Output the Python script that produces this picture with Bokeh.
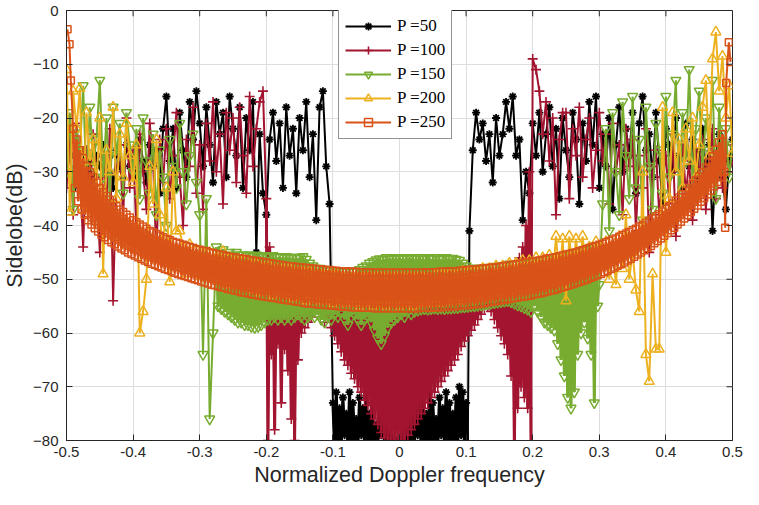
import numpy as np
from bokeh.plotting import figure
from bokeh.models import Range1d, FixedTicker, Legend, LegendItem
from bokeh.embed import file_html
from bokeh.resources import INLINE

STEP = 0.005

# ---------------- data (sidelobe level in dB) ----------------
# P = 50
p50_a_x0 = -0.500
p50_a = [-28,-27,-33,-29,-31,-26,-30,-28,-33,-27,
         -29,-25,-30,-27,-33,-26,-29,-31,-25,-29,
         -27,-31,-24,-28,-32,-25,-29,-26,-34,-22,
         -16,-28,-22,-33,-19,-26,-31,-17,-24,-15,
         -21,-29,-18,-25,-32,-17,-23,-19,-31,-16,
         -22,-27,-18,-33,-20,-26,-17,-45,-23,-34,
         -38,-24,-19,-28,-21,-33,-18,-27,-22,-34,
         -20,-26,-17,-31,-23,-39,-18,-15,-29,-36]
p50_b_x0 = -0.100
p50_b_hi = [-73,-71,-74,-72,-75,-71,-73,-76,-72,-74,
            -71,-75,-73,-77,-74,-76,-78,-79,-80,-80,
            -80,-79,-78,-76,-75,-73,-74,-72,-75,-71,
            -73,-76,-72,-74,-71,-73,-75,-72,-70,-71,-73]
p50_b_lo = [-81,-80,-81,-79,-81,-81,-80,-81,-79,-81,
            -81,-80,-81,-81,-79,-81,-81,-80,-81,-81,
            -81,-81,-80,-81,-81,-79,-81,-80,-81,-81,
            -80,-81,-79,-81,-81,-80,-81,-81,-79,-81,-81]
p50_c_x0 = 0.105
p50_c = [-41,-26,-19,-24,-21,-28,-23,-32,-20,-27,
         -23,-17,-22,-16,-27,-24,-39,-30,-34,-21,
         -27,-19,-30,-23,-18,-29,-22,-35,-20,-26,
         -31,-19,-24,-36,-21,-28,-17,-25,-16,-33,
         -23,-29,-20,-37,-25,-18,-30,-22,-27,-19,
         -34,-21,-16,-26,-23,-31,-19,-28,-36,-22,
         -25,-30,-20,-27,-33,-21,-29,-24,-35,-26,
         -22,-30,-25,-41,-27,-23,-31,-37,-28,-24]

# P = 100
p100_a_x0 = -0.500
p100_a = [-33,-24,-38,-21,-29,-44,-26,-35,-23,-31,
          -45,-27,-36,-22,-54,-30,-25,-39,-20,-33,
          -26,-41,-23,-30,-37,-21,-28,-46,-24,-32,
          -22,-35,-27,-19,-31,-40,-24,-29,-18,-34,
          -25,-37,-21,-28,-17,-30,-23,-36,-19,-26,
          -20,-32,-18,-27,-34,-16,-29,-22,-17,-15]
p100_b_x0 = -0.200
p100_b_hi = [-35,-44,-48,-50,-49,-51,-50,-49,-51,-50,
             -50,-49,-51,-50,-49,-50,-51,-50,-49,-50,
             -51,-50,-49,-50,-51,-50,-49,-50,-51,-50,
             -50,-49,-51,-50,-49,-50,-51,-50,-49,-50,
             -50,-51,-49,-50,-51,-50,-49,-50,-51,-50,
             -49,-50,-51,-50,-49,-50,-51,-50,-49,-50,
             -51,-50,-49,-50,-51,-50,-49,-50,-51,-50,
             -49,-50,-51,-50,-49,-48,-46,-44,-40,-30]
p100_b_lo = [-80,-64,-78,-62,-73,-63,-67,-76,-80,-65,
             -60,-59,-58,-57,-56,-55,-56,-58,-57,-59,
             -60.5,-62,-63.5,-65,-66,-67.5,-68.5,-70,-71,-72.5,
             -73.5,-75,-76,-77,-78.5,-79.5,-80.5,-81,-81,-81,
             -81,-80.5,-79,-78,-77,-76,-75,-74,-73,-72,
             -71,-70,-69,-68,-67,-66,-65,-64,-62.5,-61.5,
             -60.5,-59.5,-58.5,-57.5,-56.5,-55.5,-55,-56,-57.5,-59,
             -60.5,-62,-64,-68,-81,-74,-70,-72,-74,-81]
p100_c_x0 = 0.200
p100_c = [-9,-11,-15,-23,-17,-28,-20,-38,-24,-19,
          -19,-35,-22,-27,-18,-31,-24,-20,-33,-26,
          -19,-28,-23,-36,-21,-30,-25,-38,-22,-29,
          -24,-41,-27,-33,-22,-45,-29,-26,-38,-31,
          -27,-36,-23,-42,-30,-25,-34,-28,-39,-26,
          -31,-24,-37,-29,-22,-35,-27,-33,-25,-30,-28]

# P = 150
p150_a_x0 = -0.500
p150_a = [-30,-19,-37,-22,-27,-14,-33,-18,-29,-24,
          -13,-31,-20,-36,-18,-27,-21,-34,-19,-25,
          -30,-22,-35,-20,-28,-34,-23,-38,-26,-31,
          -40,-24,-29,-33,-21,-30,-36,-27,-23,-32,
          -38,-64,-35,-76,-60]
p150_b_x0 = -0.275
p150_b_hi = [-44,-45,-44.5,-45.5,-45,-45.5,-45,-45.5,-45.5,-45.5,
             -45.5,-45.8,-45.5,-45.8,-45.6,-45.8,-45.8,-45.6,-45.9,-45.8,
             -45.9,-45.8,-46,-45.9,-46,-46,-45.8,-46.3,-47,-47.5,
             -48,-48,-48.2,-48.3,-48.4,-48.4,-48.5,-48.5,-48.5,-48.5,
             -48.5,-48.6,-48.5,-48.2,-47.8,-47.5,-47,-46.7,-46.4,-46.2,
             -46.3,-46,-46.2,-46,-46.1,-46,-46.2,-46,-46.1,-46,
             -46.2,-46,-46.3,-46,-46.1,-46.2,-46,-46.3,-46.1,-46,
             -46.2,-46.1,-46.3,-46.5,-47,-47.5,-48,-48,-48,-48,
             -48,-48,-47.8,-47.8,-47.6,-47.5,-47.5,-47.3,-47.2,-47.2,
             -47.2,-47.2,-47,-47,-46.9,-46.8,-46.7,-46.6,-46.5,-46.4,
             -46.3,-46.2,-46,-45.9,-45.8,-45.6,-45.4,-45.2,-45,-44.8,
             -44.6,-44.4,-44.2,-44,-43.8]
p150_b_lo = [-55,-55.5,-56,-56.5,-57,-57.5,-58,-58,-58.5,-58.5,
             -58.8,-59,-58.8,-58.5,-58,-57.5,-57.5,-57,-57.5,-57,
             -57.5,-57,-57.5,-57,-56.5,-57,-57.5,-57,-56.5,-57,
             -56.5,-57.5,-58,-56.8,-57.5,-56.5,-57,-56,-57.5,-58.5,
             -57,-56.5,-57.5,-58.5,-57.5,-57,-58,-59.5,-61,-62,
             -60.5,-59,-58,-57.5,-57,-56.5,-57,-56,-56.5,-56,
             -55.8,-55.6,-55.5,-55.6,-55.5,-55.4,-55.5,-55.4,-55.5,-55.4,
             -55.4,-55.3,-55.3,-55.2,-55.2,-55.1,-55,-55,-54.9,-54.8,
             -54.7,-54.6,-54.5,-54.4,-54.3,-54.2,-54.1,-54,-54.2,-54.5,
             -54.8,-55,-55.3,-55.6,-56,-55,-56,-57,-58,-58.5,
             -59,-59.5,-62,-65,-68,-72,-74,-71,-64,-60,
             -58,-61,-64,-73,-55]
p150_c_x0 = 0.300
p150_c = [-51,-36,-22,-41,-19,-30,-38,-17,-27,-35,
          -16,-33,-24,-39,-18,-29,-37,-21,-26,-34,
          -16,-31,-23,-13,-36,-19,-28,-11,-33,-22,
          -15,-30,-20,-26,-13,-35,-18,-29,-22,-31,-25]

# P = 200
p200_a_x0 = -0.500
p200_a = [-11,-37.5,-15,-22,-14.5,-37,-19,-28,-24,-33,
          -20,-49,-26,-30,-18,-35,-23,-31,-21,-27,
          -32,-25,-60,-56,-50,-29,-36,-24,-38,-45,
          -33,-50.5,-30,-41,-41]
p200_b_x0 = -0.325
p200_b = [-44,-49,-43.5,-48,-44.5,-49.5,-45,-48.5,-45,-50,
          -46,-50,-44.8,-51,-46,-50.5,-46.5,-51,-46.5,-51.5,
          -47,-52,-47,-52.5,-47.5,-52,-47.5,-53,-48,-52.5,
          -48,-53,-48,-53.5,-48.5,-53,-48.5,-54,-48.5,-53.5,
          -49,-54,-49,-54,-49,-54.5,-49,-54,-49.5,-54.5,
          -49.5,-54.5,-49.5,-55,-49.5,-54.5,-49.5,-55,-49.5,-54.5,
          -49.5,-55,-49.5,-54.5,-49.5,-55,-49.5,-54.5,-49.5,-55,
          -49.5,-54.5,-49.5,-54.5,-49.5,-54.5,-49,-54.5,-49,-54,
          -49,-54,-49,-54,-48.5,-53.5,-48.5,-53.5,-48.5,-53,
          -48,-53,-48,-52.5,-47.5,-52.5,-47.5,-52,-47,-52,
          -47,-51.5,-46.5,-51.5,-46.5,-51,-46,-50.5,-46,-50,
          -45.5,-50,-42,-49.5,-42.5,-54,-42,-49,-42.5,-48.5,
          -42,-48,-44,-47.5,-43,-47]
p200_c_x0 = 0.305
p200_c = [-47,-43,-50,-44,-51,-42,-48,-38,-50,-45,
          -52,-56,-30,-64,-69,-49,-63,-63,-18,-45,
          -35,-19,-30,-24,-33,-22,-28,-20,-31,-25,
          -18,-13,-27,-9,-4,-15,-8.5,-20,-14,-26.6]

# P = 250
p250_edge_l_x = [-0.4985, -0.4955, -0.4935]
p250_edge_l_y = [-3.5, -6.3, -13]
p250_b_x0 = -0.490
p250_hi = [-22,-24,-26,-27.5,-29,-30,-31,-32,-33,-33.8,
           -34.5,-35.2,-35.8,-36.4,-37,-37.5,-38,-38.5,-39,-39.4,
           -39.8,-40.2,-40.6,-41,-41.3,-41.6,-41.9,-42.2,-42.5,-42.7,
           -43,-43.2,-43.4,-43.6,-43.8,-44,-44.2,-44.4,-44.5,-44.7,
           -44.8,-45,-45.1,-45.3,-45.4,-45.5,-45.7,-45.8,-45.9,-46,
           -46.1,-46.2,-46.3,-46.4,-46.5,-46.6,-46.7,-46.8,-46.9,-47,
           -47.1,-47.2,-47.3,-47.4,-47.5,-47.6,-47.6,-47.7,-47.8,-47.8,
           -47.9,-48,-48,-48.1,-48.2,-48.2,-48.3,-48.3,-48.4,-48.4,
           -48.5,-48.5,-48.5,-48.6,-48.6,-48.6,-48.7,-48.7,-48.7,-48.7,
           -48.8,-48.8,-48.8,-48.8,-48.8,-48.8,-48.8,-48.8,
           -48.8,
           -48.8,-48.8,-48.8,-48.8,-48.8,-48.8,-48.8,-48.7,-48.7,-48.7,
           -48.7,-48.6,-48.6,-48.6,-48.5,-48.5,-48.5,-48.4,-48.4,-48.3,
           -48.3,-48.2,-48.2,-48.1,-48,-48,-47.9,-47.8,-47.8,-47.7,
           -47.6,-47.5,-47.4,-47.3,-47.2,-47.1,-47,-46.9,-46.8,-46.7,
           -46.6,-46.5,-46.4,-46.2,-46.1,-46,-45.9,-45.7,-45.6,-45.4,
           -45.3,-45.1,-45,-44.8,-44.6,-44.4,-44.2,-44,-43.8,-43.6,
           -43.4,-43.1,-42.9,-42.6,-42.4,-42.1,-41.8,-41.5,-41.2,-40.9,
           -40.6,-40.2,-39.9,-39.5,-39.1,-38.7,-38.3,-37.9,-37.4,-36.9,
           -36.4,-35.9,-35.4,-34.8,-34.2,-33.6,-33,-32.3,-31.6,-30.9,
           -30.1,-29.2,-28.2,-27.1,-25.9,-24.5,-23]
p250_lo = [-33,-35.5,-37,-38,-39,-39.8,-40.5,-41.1,-41.7,-42.2,
           -42.7,-43.1,-43.5,-43.9,-44.3,-44.6,-45,-45.3,-45.6,-45.9,
           -46.2,-46.5,-46.8,-47.1,-47.3,-47.6,-47.8,-48.1,-48.3,-48.5,
           -48.8,-49,-49.2,-49.4,-49.6,-49.8,-50,-50.2,-50.4,-50.6,
           -50.8,-51,-51.1,-51.3,-51.5,-51.6,-51.8,-51.9,-52.1,-52.2,
           -52.4,-52.5,-52.6,-52.8,-52.9,-53,-53.1,-53.2,-53.3,-53.4,
           -53.5,-53.6,-53.7,-53.8,-53.9,-54,-54.1,-54.2,-54.3,-54.4,
           -54.5,-54.5,-54.6,-54.7,-54.7,-54.8,-54.8,-54.9,-54.9,-55,
           -55,-55.1,-55.1,-55.2,-55.2,-55.2,-55.3,-55.3,-55.3,-55.3,
           -55.4,-55.4,-55.4,-55.4,-55.4,-55.4,-55.4,-55.4,
           -55.4,
           -55.4,-55.4,-55.4,-55.4,-55.4,-55.3,-55.3,-55.3,-55.3,-55.2,
           -55.2,-55.2,-55.1,-55.1,-55,-55,-54.9,-54.9,-54.8,-54.8,
           -54.7,-54.6,-54.6,-54.5,-54.4,-54.3,-54.2,-54.1,-54,-53.9,
           -53.8,-53.7,-53.6,-53.5,-53.4,-53.3,-53.2,-53.1,-53,-52.8,
           -52.7,-52.6,-52.4,-52.3,-52.1,-52,-51.8,-51.6,-51.4,-51.2,
           -51,-50.8,-50.6,-50.4,-50.2,-50,-49.7,-49.5,-49.2,-49,
           -48.7,-48.4,-48.1,-47.8,-47.5,-47.2,-46.9,-46.5,-46.2,-45.8,
           -45.4,-45,-44.6,-44.2,-43.8,-43.3,-42.9,-42.4,-41.9,-41.4,
           -40.9,-40.4,-39.8,-39.3,-38.7,-38.1,-37.5,-36.9,-36.3,-35.6,
           -34.9,-34.2,-33.5,-32.7,-31.9,-31,-30]
p250_edge_r_x = [0.4890, 0.4905, 0.4945, 0.4970]
p250_edge_r_y = [-40.4, -13.5, -5.9, -9.6]

labels = ["P =50", "P =100", "P =150", "P =200", "P =250"]
x_ticks = [-0.5, -0.4, -0.3, -0.2, -0.1, 0, 0.1, 0.2, 0.3, 0.4, 0.5]
x_tick_text = ["-0.5", "-0.4", "-0.3", "-0.2", "-0.1", "0", "0.1", "0.2", "0.3", "0.4", "0.5"]
y_ticks = [-80, -70, -60, -50, -40, -30, -20, -10, 0]
X_MIN, X_MAX, Y_MIN, Y_MAX = -0.5, 0.5, -80, 0


# ---------------- helpers that turn the lists into point sequences ----------------
def seq(x0, ys):
    return [x0 + STEP * i for i in range(len(ys))], list(ys)


def band(x0, hi, lo):
    xs, ys = [], []
    for i, (h, l) in enumerate(zip(hi, lo)):
        x = x0 + STEP * i
        xs += [x, x + STEP / 2]
        ys += [h, l]
    return xs, ys


def join(*parts):
    xs, ys = [], []
    for px, py in parts:
        xs += list(px)
        ys += list(py)
    return xs, ys


dense_parts = [
    band(p50_b_x0, p50_b_hi, p50_b_lo),
    band(p100_b_x0, p100_b_hi, p100_b_lo),
    band(p150_b_x0, p150_b_hi, p150_b_lo),
    None,
    band(p250_b_x0, p250_hi, p250_lo),
]
series = [
    join(seq(p50_a_x0, p50_a), dense_parts[0], seq(p50_c_x0, p50_c)),
    join(seq(p100_a_x0, p100_a), dense_parts[1], seq(p100_c_x0, p100_c)),
    join(seq(p150_a_x0, p150_a), dense_parts[2], seq(p150_c_x0, p150_c)),
    join(seq(p200_a_x0, p200_a), seq(p200_b_x0, p200_b), seq(p200_c_x0, p200_c)),
    join((p250_edge_l_x, p250_edge_l_y), dense_parts[4], (p250_edge_r_x, p250_edge_r_y)),
]

colors = ["#000000", "#A2142F", "#77AC30", "#EDB120", "#D95319"]
markers = ["asterisk", "cross", "inverted_triangle", "triangle", "square"]
msizes = [8, 10, 10, 10, 7]
mwidths = [1.8, 1.6, 1.5, 1.5, 1.5]
dense_widths = [3.0, 3.0, 3.0, 0, 2.6]

AX = "#262626"
p = figure(width=743, height=489, x_range=Range1d(X_MIN, X_MAX), y_range=Range1d(Y_MIN, Y_MAX),
           output_backend="svg", toolbar_location=None,
           min_border_left=60, min_border_right=11, min_border_top=10, min_border_bottom=46)
p.background_fill_color = "white"
p.border_fill_color = "white"
p.outline_line_color = AX
p.outline_line_width = 1

p.xaxis.ticker = FixedTicker(ticks=x_ticks)
p.xaxis.major_label_overrides = {t: s for t, s in zip(x_ticks, x_tick_text)}
p.yaxis.ticker = FixedTicker(ticks=y_ticks)
for ax in (p.xaxis[0], p.yaxis[0]):
    ax.axis_line_color = AX
    ax.major_tick_line_color = AX
    ax.major_tick_in = 6
    ax.major_tick_out = 0
    ax.minor_tick_line_color = None
    ax.major_label_text_font = "Liberation Sans"
    ax.major_label_text_font_size = "15px"
    ax.major_label_text_color = AX
    ax.axis_label_text_font = "Liberation Sans"
    ax.axis_label_text_font_size = "21.5px"
    ax.axis_label_text_font_style = "normal"
    ax.axis_label_text_color = AX
p.xaxis.axis_label = "Normalized Doppler frequency"
p.yaxis.axis_label = "Sidelobe(dB)"
p.xaxis.major_label_standoff = 6
p.xaxis.axis_label_standoff = 3
p.yaxis.major_label_standoff = 8
p.yaxis.axis_label_standoff = 3

p.xgrid.ticker = FixedTicker(ticks=x_ticks)
p.ygrid.ticker = FixedTicker(ticks=y_ticks)
p.grid.grid_line_color = "#dedede"
p.grid.grid_line_width = 1

items = []
for (xs, ys), dp, dw, c, m, s, mw, lab in zip(series, dense_parts, dense_widths, colors,
                                              markers, msizes, mwidths, labels):
    rl = p.line(xs, ys, line_color=c, line_width=2.0)
    if dp is not None:
        # the densely oscillating stretch is drawn once more, a little heavier,
        # so that it reads as the nearly solid area seen in the reference
        p.line(dp[0], dp[1], line_color=c, line_width=dw)
    rm = p.scatter(xs, ys, marker=m, size=s, line_color=c, fill_color=None, line_width=mw)
    items.append(LegendItem(label=lab, renderers=[rl, rm]))

# box-style tick marks on the top and right edges (inward), at the axis tick positions
tick_dy = (Y_MAX - Y_MIN) * 0.0135
tick_dx = (X_MAX - X_MIN) * 0.009
p.segment(x0=x_ticks, y0=[Y_MAX] * len(x_ticks), x1=x_ticks, y1=[Y_MAX - tick_dy] * len(x_ticks),
          line_color=AX, line_width=1)
p.segment(x0=[X_MAX] * len(y_ticks), y0=y_ticks, x1=[X_MAX - tick_dx] * len(y_ticks), y1=y_ticks,
          line_color=AX, line_width=1)

legend = Legend(items=items, location=(272, 301))
legend.label_text_font = "Liberation Serif"
legend.label_text_font_size = "17px"
legend.label_text_color = "#000000"
legend.glyph_width = 46
legend.glyph_height = 20
legend.label_height = 20
legend.spacing = 4
legend.padding = 6
legend.margin = 0
legend.label_standoff = 6
legend.border_line_color = AX
legend.border_line_width = 1
legend.background_fill_color = "white"
legend.background_fill_alpha = 1.0
p.add_layout(legend)

open("out.html", "w").write(file_html(p, INLINE))
